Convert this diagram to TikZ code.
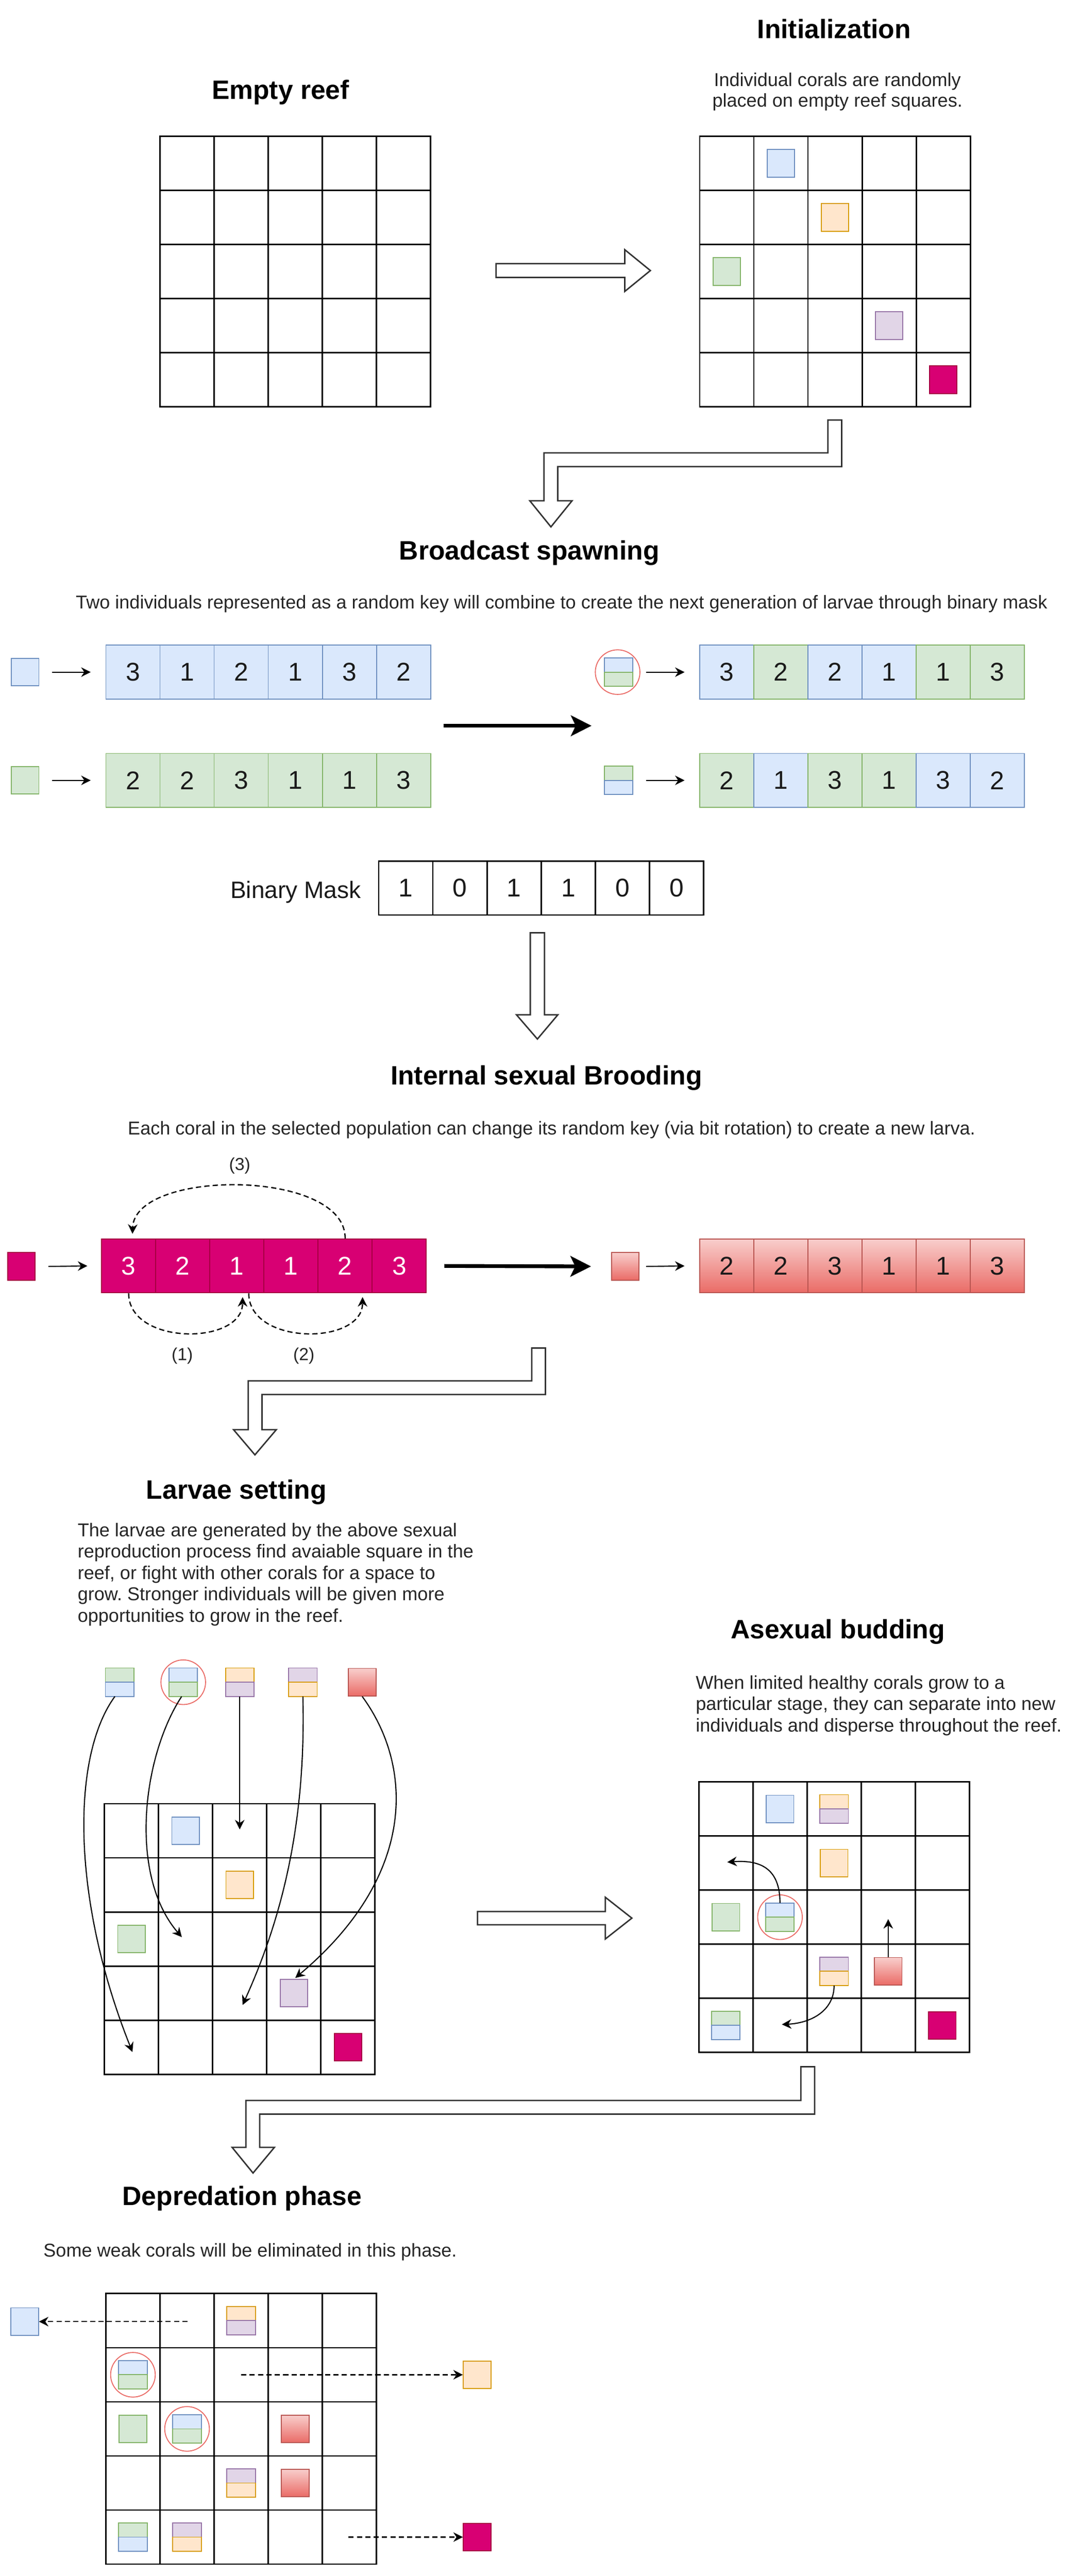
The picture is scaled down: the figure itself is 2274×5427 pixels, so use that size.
\documentclass[tikz,border=0pt]{standalone}
\usepackage{fontspec}
\setmainfont{Liberation Sans}
\usetikzlibrary{arrows.meta,calc}
\definecolor{cbf}{HTML}{DAE8FC}\definecolor{cbd}{HTML}{6C8EBF}
\definecolor{cgf}{HTML}{D5E8D4}\definecolor{cgd}{HTML}{82B366}
\definecolor{cof}{HTML}{FFE6CC}\definecolor{cod}{HTML}{D79B00}
\definecolor{cpf}{HTML}{E1D5E7}\definecolor{cpd}{HTML}{9673A6}
\definecolor{cmf}{HTML}{D80073}\definecolor{cmd}{HTML}{A50040}
\definecolor{crt}{HTML}{F8CECC}\definecolor{crb}{HTML}{EA6B66}\definecolor{crd}{HTML}{B85450}
\definecolor{circ}{HTML}{EA6B66}
\definecolor{dtxt}{HTML}{262626}
\definecolor{ntxt}{HTML}{1A1A1A}
\newcommand{\keyrow}[4]{%
  \foreach \s/\n [count=\i from 0] in {#4} {
    \node[kcell,\s] (#1\i) at ({#2+57+114*\i},#3) {\n};
  }%
}
\newcommand{\reef}[3]{%
  \node[gridbox] (#1) at ({#2+285},{#3+285}) {};
  \foreach \k in {1,2,3,4} {
    \draw[gridline] ({#2+114*\k},#3) -- ({#2+114*\k},{#3+570});
    \draw[gridline] (#2,{#3+114*\k}) -- ({#2+570},{#3+114*\k});
  }%
}
\newcommand{\splitsq}[4]{%
  \node[sq] (#1) at (#2) {};
  \path[#3] (#1.north west) rectangle (#1.east);
  \path[#4] (#1.west) rectangle (#1.south east);
}
\frenchspacing
\begin{document}
\begin{tikzpicture}[x=0.3pt,y=-0.3pt,
  title/.style={anchor=base, inner sep=0, text=black, font=\bfseries\fontsize{16.8pt}{20pt}\selectfont},
  desc/.style={anchor=base, inner sep=0, text=dtxt, font=\fontsize{11.75pt}{13.5pt}\selectfont},
  descl/.style={desc, anchor=base west},
  kcell/.style={rectangle, minimum width=34.2pt, minimum height=34pt, inner sep=0, line width=0.6pt, text=ntxt, font=\fontsize{16.2pt}{18pt}\selectfont},
  kb/.style={fill=cbf, draw=cbd}, kg/.style={fill=cgf, draw=cgd},
  km/.style={fill=cmf, draw=cmd, text=white},
  kr/.style={top color=crt, bottom color=crb, draw=crd},
  kw/.style={fill=white, draw=black, line width=0.8pt},
  gridbox/.style={rectangle, draw=black, line width=0.9pt, minimum size=171pt, inner sep=0},
  gridline/.style={draw=black, line width=0.9pt},
  sq/.style={rectangle, minimum size=17.4pt, inner sep=0, line width=0.6pt},
  cbs/.style={fill=cbf, draw=cbd, line width=0.6pt},
  cgs/.style={fill=cgf, draw=cgd, line width=0.6pt},
  cos/.style={fill=cof, draw=cod, line width=0.6pt},
  cps/.style={fill=cpf, draw=cpd, line width=0.6pt},
  cms/.style={fill=cmf, draw=cmd, line width=0.6pt},
  crs/.style={top color=crt, bottom color=crb, draw=crd, line width=0.6pt},
  ring/.style={circle, draw=circ, line width=0.6pt, minimum size=28.2pt, inner sep=0},
  thinarr/.style={-{Stealth[length=6pt,width=6pt]}, line width=0.7pt, draw=black},
  dasharr/.style={thinarr, line width=0.8pt, dash pattern=on 3.3pt off 2pt},
  thickarr/.style={-{Stealth[length=13pt,width=13pt,inset=3pt]}, line width=2.4pt, draw=black},
  hollow/.style={draw=black!80, line width=0.9pt, fill=white, line join=miter},
  lbl/.style={inner sep=0, text=dtxt, font=\fontsize{11pt}{12pt}\selectfont}
]
\useasboundingbox (0,0) rectangle (2274,5427);
\fill[white] (0,0) rectangle (2274,5427);

% ---------- Empty reef / Initialization ----------
\node[title] (t1) at (591,209) {Empty reef};
\reef{g1}{337}{287}
\node[title] (t2) at (1757,81) {Initialization};
\node[desc] (d2a) at (1764,182) {Individual corals are randomly};
\node[desc] (d2b) at (1764,225) {placed on empty reef squares.};
\reef{g2}{1474}{287}
\node[sq,cbs] (i1) at (1645,344) {};
\node[sq,cos] (i2) at (1759,458) {};
\node[sq,cgs] (i3) at (1531,572) {};
\node[sq,cps] (i4) at (1873,686) {};
\node[sq,cms] (i5) at (1987,800) {};
\draw[hollow] (1045,555.5) -- (1316,555.5) -- (1316,526) -- (1370,570) -- (1316,614) -- (1316,584.5) -- (1045,584.5) -- cycle;
\draw[hollow] (1744,885) -- (1773,885) -- (1773,983) -- (1175,983) -- (1175,1055) -- (1205,1055) -- (1160.5,1110) -- (1116,1055) -- (1146,1055) -- (1146,954) -- (1744,954) -- cycle;

% ---------- Broadcast spawning ----------
\node[title] (t3) at (1115,1179) {Broadcast spawning};
\node[desc] (d3) at (1183,1282) {Two individuals represented as a random key will combine to create the next generation of larvae through binary mask};
\node[sq,cbs] (bp1) at (53,1416) {};
\keyrow{bpa}{223}{1416}{kb/3,kb/1,kb/2,kb/1,kb/3,kb/2}
\draw[thinarr] ([xshift=8.1pt]bp1.east) -- ([xshift=-9.3pt]bpa0.west);
\node[sq,cgs] (bp2) at (53,1644) {};
\keyrow{bpb}{223}{1644}{kg/2,kg/2,kg/3,kg/1,kg/1,kg/3}
\draw[thinarr] ([xshift=8.1pt]bp2.east) -- ([xshift=-9.3pt]bpb0.west);
\coordinate (ta1) at (934,1529);
\coordinate (ta2) at (1246,1529);
\draw[thickarr] (ta1) -- (ta2);
\node[ring] (c1r) at (1301,1416) {};
\splitsq{c1}{1303,1416}{cbs}{cgs}
\keyrow{bca}{1474}{1416}{kb/3,kg/2,kb/2,kb/1,kg/1,kg/3}
\draw[thinarr] ([xshift=8.4pt]c1.east) -- ([xshift=-9.3pt]bca0.west);
\splitsq{c2}{1303,1644}{cgs}{cbs}
\keyrow{bcb}{1474}{1644}{kg/2,kb/1,kg/3,kg/1,kb/3,kb/2}
\draw[thinarr] ([xshift=8.4pt]c2.east) -- ([xshift=-9.3pt]bcb0.west);
\node[anchor=base east, inner sep=0, text=ntxt, font=\fontsize{15pt}{17pt}\selectfont] (bml) at (761,1892) {Binary Mask};
\keyrow{mk}{798}{1871}{kw/1,kw/0,kw/1,kw/1,kw/0,kw/0}
\draw[hollow] (1117,1965) -- (1147,1965) -- (1147,2138) -- (1175,2138) -- (1132,2189) -- (1088,2138) -- (1117,2138) -- cycle;

% ---------- Internal sexual Brooding ----------
\node[title] (t4) at (1151,2285) {Internal sexual Brooding};
\node[desc] (d4) at (1162,2391) {Each coral in the selected population can change its random key (via bit rotation) to create a new larva.};
\node[sq,cms] (bm) at (45,2668) {};
\keyrow{bma}{214}{2667}{km/3,km/2,km/1,km/1,km/2,km/3}
\draw[thinarr] ([xshift=8.1pt]bm.east) -- ([xshift=-8.7pt]bma0.west);
\draw[dasharr] (bma4.north) .. controls (729,2462) and (283,2462) .. ([xshift=2.4pt,yshift=3pt]bma0.north);
\draw[dasharr] (bma0.south) .. controls (271,2835) and (511,2835) .. ([xshift=3.6pt,yshift=-2.4pt]bma2.south);
\draw[dasharr] ([xshift=7.5pt]bma2.south) .. controls (524,2835) and (764,2835) .. ([xshift=11pt,yshift=-2.4pt]bma4.south);
\node[lbl] (l3) at (505,2456) {(3)};
\node[lbl] (l1) at (384,2856) {(1)};
\node[lbl] (l2) at (640,2856) {(2)};
\node[sq,crs] (rs) at (1317,2668) {};
\draw[thickarr] ([xshift=11.1pt]bma5.east) -- ([xshift=-12.6pt]rs.west);
\keyrow{rsa}{1474}{2667}{kr/2,kr/2,kr/3,kr/1,kr/1,kr/3}
\draw[thinarr] ([xshift=4.2pt]rs.east) -- ([xshift=-9.3pt]rsa0.west);
\draw[hollow] (1120,2840) -- (1149,2840) -- (1149,2938) -- (552,2938) -- (552,3012) -- (582,3012) -- (537,3065) -- (492,3012) -- (523,3012) -- (523,2909) -- (1120,2909) -- cycle;

% ---------- Larvae setting ----------
\node[title] (t5) at (498,3158) {Larvae setting};
\node[descl] (d5a) at (163,3237) {The larvae are generated by the above sexual};
\node[descl] (d5b) at (163,3282) {reproduction process find avaiable square in the};
\node[descl] (d5c) at (163,3327) {reef, or fight with other corals for a space to};
\node[descl] (d5d) at (163,3372) {grow. Stronger individuals will be given more};
\node[descl] (d5e) at (163,3417) {opportunities to grow in the reef.};
\splitsq{ls1}{252,3544}{cgs}{cbs}
\node[ring] (ls2r) at (386,3544) {};
\splitsq{ls2}{386,3544}{cbs}{cgs}
\splitsq{ls3}{505,3544}{cos}{cps}
\splitsq{ls4}{638,3544}{cps}{cos}
\node[sq,crs] (ls5) at (763,3544) {};
\reef{g3}{220}{3800}
\node[sq,cbs] (l1) at (391,3857) {};
\node[sq,cos] (l2) at (505,3971) {};
\node[sq,cgs] (l3) at (277,4085) {};
\node[sq,cps] (l4) at (619,4199) {};
\node[sq,cms] (l5) at (733,4313) {};
\coordinate (a1e) at (279,4323);
\coordinate (a2e) at (383,4081);
\coordinate (a3e) at (505,3854);
\coordinate (a4e) at (511,4224);
\coordinate (a5e) at (622,4167);
\draw[thinarr] ([xshift=-3pt]ls1.south) .. controls (150,3700) and (150,4000) .. (a1e);
\draw[thinarr] ([xshift=-1pt]ls2.south) .. controls (300,3700) and (270,3950) .. (a2e);
\draw[thinarr] (ls3.south) -- (a3e);
\draw[thinarr] (ls4.south) .. controls (645,3850) and (590,4050) .. (a4e);
\draw[thinarr] (ls5.south) .. controls (870,3720) and (880,3950) .. (a5e);
\draw[hollow] (1006,4027) -- (1275,4027) -- (1275,3997) -- (1331,4041) -- (1275,4085) -- (1275,4055) -- (1006,4055) -- cycle;

% ---------- Asexual budding ----------
\node[title] (t6) at (1765,3452) {Asexual budding};
\node[descl] (d6a) at (1465,3558) {When limited healthy corals grow to a};
\node[descl] (d6b) at (1465,3603) {particular stage, they can separate into new};
\node[descl] (d6c) at (1465,3648) {individuals and disperse throughout the reef.};
\reef{g4}{1472}{3754}
\node[sq,cbs] (ab1) at (1643,3811) {};
\splitsq{ab2}{1757,3811}{cos}{cps}
\node[sq,cos] (ab3) at (1757,3925) {};
\node[sq,cgs] (ab4) at (1529,4039) {};
\node[ring] (ab5r) at (1643,4039) {};
\splitsq{ab5}{1643,4039}{cbs}{cgs}
\splitsq{ab6}{1757,4153}{cps}{cos}
\node[sq,crs] (ab7) at (1871,4153) {};
\splitsq{ab8}{1529,4267}{cgs}{cbs}
\node[sq,cms] (ab9) at (1985,4267) {};
\coordinate (b1e) at (1532,3923);
\coordinate (b2e) at (1871,4043);
\coordinate (b3e) at (1647,4265);
\draw[thinarr] (ab5.north) .. controls (1643,3935) and (1600,3918) .. (b1e);
\draw[thinarr] (ab7.north) -- (b2e);
\draw[thinarr] (ab6.south) .. controls (1757,4235) and (1710,4262) .. (b3e);
\draw[hollow] (1687,4354) -- (1716,4354) -- (1716,4454) -- (547,4454) -- (547,4524) -- (578,4524) -- (533,4578) -- (489,4524) -- (518,4524) -- (518,4425) -- (1687,4425) -- cycle;

% ---------- Depredation phase ----------
\node[title] (t7) at (510,4646) {Depredation phase};
\node[desc] (d7) at (527,4754) {Some weak corals will be eliminated in this phase.};
\reef{g5}{223}{4832}
\splitsq{dp1}{508,4889}{cos}{cps}
\node[ring] (dp2r) at (280,5003) {};
\splitsq{dp2}{280,5003}{cbs}{cgs}
\node[sq,cgs] (dp3) at (280,5117) {};
\node[ring] (dp4r) at (394,5117) {};
\splitsq{dp4}{394,5117}{cbs}{cgs}
\node[sq,crs] (dp5) at (622,5117) {};
\splitsq{dp6}{508,5231}{cps}{cos}
\node[sq,crs] (dp7) at (622,5231) {};
\splitsq{dp8}{280,5345}{cgs}{cbs}
\splitsq{dp9}{394,5345}{cps}{cos}
\node[sq,cbs] (do1) at (52,4891) {};
\node[sq,cos] (do2) at (1005,5003) {};
\node[sq,cms] (do3) at (1005,5345) {};
\coordinate (e1s) at (395,4891);
\coordinate (e2s) at (508,5003);
\coordinate (e3s) at (734,5345);
\draw[dasharr] (e1s) -- (do1.east);
\draw[dasharr] (e2s) -- (do2.west);
\draw[dasharr] (e3s) -- (do3.west);
\end{tikzpicture}
\end{document}
